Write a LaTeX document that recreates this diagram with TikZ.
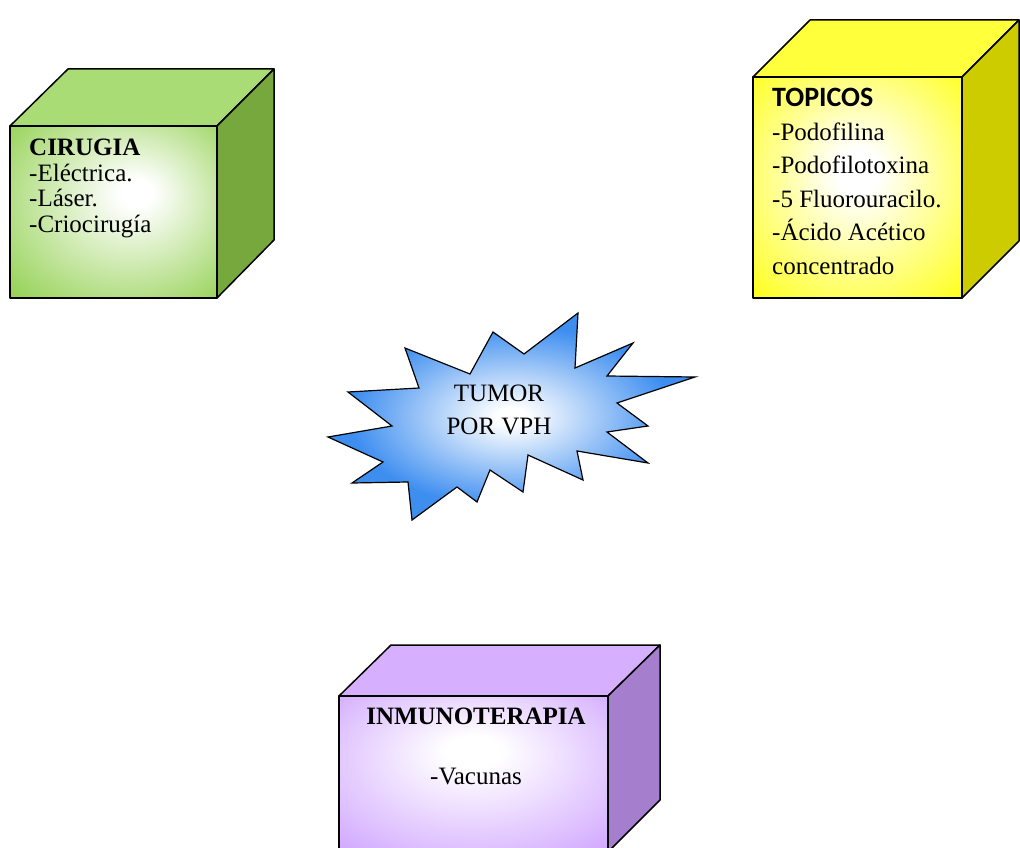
\documentclass[tikz,border=0pt]{standalone}
\usepackage{fontspec}
\setmainfont{Liberation Serif}
\newfontfamily\topicfont{Carlito}
\usepackage{tikz}

\definecolor{cirfront}{RGB}{146,208,80}
\definecolor{cirtop}{RGB}{170,220,118}
\definecolor{cirside}{RGB}{118,168,62}
\definecolor{topfront}{RGB}{255,255,0}
\definecolor{toptop}{RGB}{255,255,60}
\definecolor{topside}{RGB}{204,204,0}
\definecolor{inmfront}{RGB}{204,158,255}
\definecolor{inmtop}{RGB}{214,176,255}
\definecolor{inmside}{RGB}{166,126,206}
\definecolor{starblue}{RGB}{62,142,240}

\pgfdeclareradialshading{cirglow}{\pgfpoint{6bp}{6bp}}{color(0bp)=(white); color(4bp)=(white); color(38bp)=(cirfront); color(50bp)=(cirfront)}
\pgfdeclareradialshading{topglow}{\pgfpoint{0bp}{4bp}}{color(0bp)=(white); color(5bp)=(white); color(40bp)=(topfront); color(50bp)=(topfront)}
\pgfdeclareradialshading{inmglow}{\pgfpoint{0bp}{8bp}}{color(0bp)=(white); color(5bp)=(white); color(40bp)=(inmfront); color(50bp)=(inmfront)}
\pgfdeclareradialshading{starglow}{\pgfpoint{0bp}{0bp}}{color(0bp)=(white); color(2bp)=(white); color(22bp)=(starblue); color(50bp)=(starblue)}

\begin{document}
\begin{tikzpicture}[x=1pt, y=-1pt, cube edge/.style={draw=black, line width=1.5pt, line join=round}, block text/.style={inner sep=0pt, font=\fontsize{25}{25.5}\selectfont}]
        \useasboundingbox (0,0) rectangle (1020,848);
        \clip (0,0) rectangle (1020,848);

        \filldraw[cube edge, fill=cirtop] (10,126) -- (68,69) -- (274,69) -- (217,126) -- cycle;
        \filldraw[cube edge, fill=cirside] (217,126) -- (274,69) -- (274,240) -- (217,298) -- cycle;
        \draw[cube edge, shade, shading=cirglow] (10,126) rectangle (217,298);

        \filldraw[cube edge, fill=toptop] (753,77) -- (810,20) -- (1019,20) -- (962,77) -- cycle;
        \filldraw[cube edge, fill=topside] (962,77) -- (1019,20) -- (1019,241) -- (962,298) -- cycle;
        \draw[cube edge, shade, shading=topglow] (753,77) rectangle (962,298);

        \filldraw[cube edge, fill=inmtop] (339,696) -- (391,645) -- (660,645) -- (608,696) -- cycle;
        \filldraw[cube edge, fill=inmside] (608,696) -- (660,645) -- (660,800) -- (608,852) -- cycle;
        \draw[cube edge, shade, shading=inmglow] (339,696) rectangle (608,852);

        \draw[line width=1.2pt, line join=miter, shade, shading=starglow] (328,437) -- (392,426) -- (348,392) -- (419,388) -- (405,348) -- (470,374) -- (493,332) -- (524,354) -- (578,313) -- (575,368) -- (633,343) -- (607,376) -- (695,377) -- (617,403) -- (648,426) -- (607,432) -- (648,463) -- (577,451) -- (583,480) -- (528,455) -- (523,492) -- (490,470) -- (477,502) -- (457,487) -- (412,520) -- (408,482) -- (352,483) -- (383,462) -- cycle;

        \node[block text, anchor=north west, align=left] (cirugia) at (29,139) {\textbf{CIRUGIA}\\-Eléctrica.\\-Láser.\\-Criocirugía};
        \node[block text, anchor=north west, align=left, font=\fontsize{25}{33.5}\selectfont] (topicos) at (772,88) {{\topicfont\bfseries\fontsize{28}{33.5}\selectfont TOPICOS}\\-Podofilina\\-Podofilotoxina\\-5 Fluorouracilo.\\-Ácido Acético\\concentrado};
        \node[block text, anchor=north, align=center, font=\fontsize{25}{30}\selectfont] (inmuno) at (476,708) {\textbf{INMUNOTERAPIA}\\[30pt]-Vacunas};
        \node[block text, anchor=north, align=center, font=\fontsize{25}{33}\selectfont] (tumor) at (499,385) {TUMOR\\POR VPH};

    \end{tikzpicture}
\end{document}
